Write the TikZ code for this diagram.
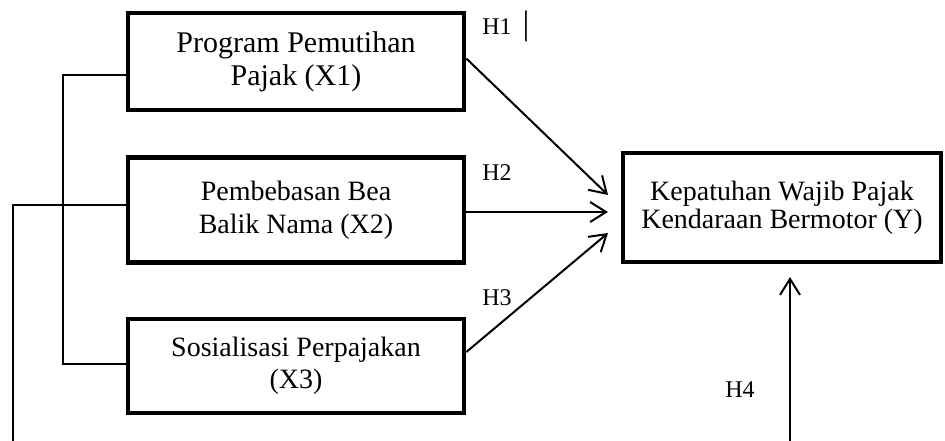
\documentclass[tikz,border=0pt]{standalone}
\usepackage{fontspec}
\setmainfont{Liberation Serif}
\usetikzlibrary{arrows.meta}
\begin{document}
\begin{tikzpicture}[x=0.5pt,y=-0.5pt,
  box/.style={draw,line width=2.3pt,align=center,inner sep=0pt},
  arr/.style={line width=1pt,-{Straight Barb[length=8pt,width=10pt]}},
  link/.style={line width=0.65pt},
  lab/.style={font=\fontsize{12}{14}\selectfont,inner sep=0pt}]
\useasboundingbox (0,0) rectangle (945,440);
% boxes
\node[box,minimum width=168pt,minimum height=48.5pt,font=\fontsize{15}{16.5}\selectfont] (x1) at (296,61.5) {Program Pemutihan\\Pajak (X1)};
\node[box,minimum width=168pt,minimum height=52.5pt,font=\fontsize{14}{16.5}\selectfont] (x2) at (296,210) {Pembebasan Bea\\Balik Nama (X2)};
\node[box,minimum width=168pt,minimum height=47pt,font=\fontsize{14}{16}\selectfont] (x3) at (296,366) {Sosialisasi Perpajakan\\(X3)};
\node[box,minimum width=159pt,minimum height=54.5pt,font=\fontsize{14}{14}\selectfont] (y) at (782,207.5) {Kepatuhan Wajib Pajak\\Kendaraan Bermotor (Y)};
% arrow tips
\coordinate (t1) at (608,195);
\coordinate (t2) at (608,212);
\coordinate (t3) at (608,233);
\coordinate (t4) at (790,277);
\coordinate (c4) at (790,448);
% bracket links
\draw[link] ([yshift=-6.75pt]x1.west) -- (63,75) -- (63,364) -- ([yshift=1pt]x3.west);
\draw[link] ([yshift=2.5pt]x2.west) -- (13,205) -- (13,448) -- (c4);
% arrows
\draw[arr] ([yshift=1.5pt]x1.east) -- (t1);
\draw[arr] (x2.east |- t2) -- (t2);
\draw[arr] ([yshift=7pt]x3.east) -- (t3);
\draw[arr] (c4) -- (t4);
% labels
\node[lab] (h1) at (497,27) {H1};
\node[lab,font=\fontsize{17}{18}\selectfont] (bar) at (526,26) {|};
\node[lab] (h2) at (497,173) {H2};
\node[lab] (h3) at (497,298) {H3};
\node[lab] (h4) at (740,390) {H4};
\end{tikzpicture}
\end{document}
